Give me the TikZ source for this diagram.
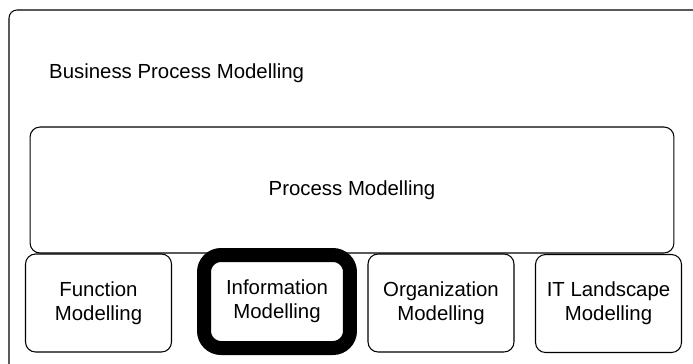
\documentclass[tikz,border=0pt]{standalone}
\usepackage{fontspec}
\setmainfont{Liberation Sans}
\begin{document}
\begin{tikzpicture}[x=0.02cm,y=-0.02cm,
    every node/.style={font=\fontsize{11.6}{13.8}\selectfont},
    modbox/.style={rectangle,draw,line width=0.6pt,rounded corners=0.2cm,align=center,minimum width=2.92cm,minimum height=1.96cm,inner sep=0pt}]
                \useasboundingbox (0,0) rectangle (693,363);
                \clip (0,0) rectangle (693,363);
                \draw[line width=0.6pt,rounded corners=0.16cm] (9,10) rectangle (720,400);
                \node[anchor=west] (BPM) at (43,73) {Business Process Modelling};
                \node[modbox,minimum width=12.88cm,minimum height=2.52cm] (PM) at (352,190) {Process Modelling};
                \node[modbox] (FM) at (98.5,303) {Function\\Modelling};
                \node[modbox,line width=0.28cm,rounded corners=0.34cm,minimum width=2.92cm,minimum height=1.86cm] (IM) at (277,301.5) {Information\\Modelling};
                \node[modbox] (OM) at (441,303) {Organization\\Modelling};
                \node[modbox] (ITM) at (608.5,303.5) {IT Landscape\\Modelling};
            \end{tikzpicture}
\end{document}
